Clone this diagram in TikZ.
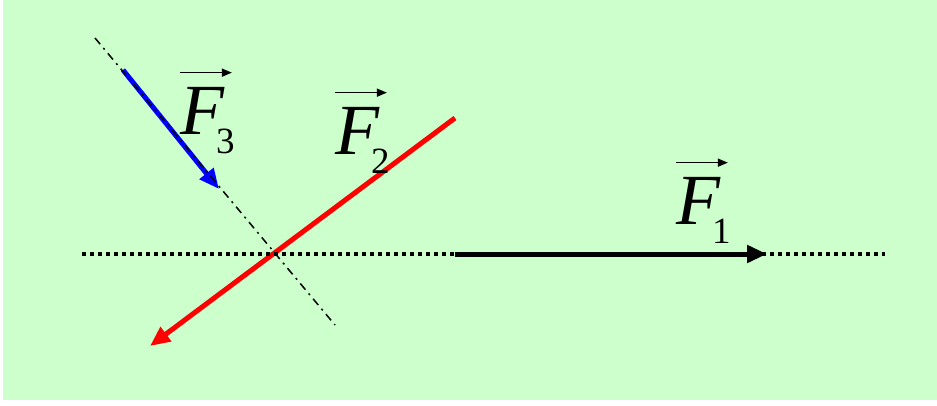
\documentclass[tikz,border=0pt]{standalone}
\usepackage{fontspec}
\setmainfont{Liberation Serif}
\usetikzlibrary{arrows.meta}

\definecolor{paleGreen}{RGB}{204,255,204}
\newcommand{\forcelbl}[1]{\itshape F\kern-8pt\raisebox{-19pt}{\upshape\fontsize{37}{40}\selectfont #1}}

\begin{document}
\begin{tikzpicture}[
    x=1pt, y=-1pt,
    force/.style={line width=5pt, -{Triangle[length=20pt, width=17pt]}},
    axis/.style={line width=4pt, dash pattern=on 4pt off 4pt},
    axdd/.style={line width=1.5pt, dash pattern=on 8pt off 5pt on 2pt off 5pt},
    lbl/.style={font=\fontsize{72}{78}\selectfont, inner sep=0pt, anchor=base west},
    vecbar/.style={line width=1.6pt, -{Triangle[length=10pt, width=8pt]}},
]

% --- background ---
\useasboundingbox (0,0) rectangle (937,405);
\fill[paleGreen] (3,0) rectangle (937,400);

% --- points ---
\coordinate (axL) at (82,254);
\coordinate (axR) at (885,254);
\coordinate (o1)  at (455,254);
\coordinate (t1)  at (767,254);
\coordinate (o2)  at (455,118);
\coordinate (t2)  at (150,346);
\coordinate (o3)  at (123,70);
\coordinate (t3)  at (219,189);
\coordinate (dd1) at (95,38);
\coordinate (dd2) at (335,325);

% --- the three forces ---
\draw[force, black] (o1) -- (t1);
\draw[force, red]   (o2) -- (t2);
\draw[force, blue]  (o3) -- (t3);

% --- lines of action ---
\draw[axis] (axL) -- (axR);
\draw[axdd] (dd1) -- (dd2);

% --- labels, each with its vector arrow ---
\node[lbl] (f1) at (676,224) {\forcelbl{1}};
\node[lbl] (f2) at (335,154) {\forcelbl{2}};
\node[lbl] (f3) at (180,134) {\forcelbl{3}};

\foreach \f in {f1,f2,f3}
  \draw[vecbar] ([yshift=14pt]\f.north west) -- ([xshift=-3pt, yshift=14pt]\f.north east);

\end{tikzpicture}
\end{document}
